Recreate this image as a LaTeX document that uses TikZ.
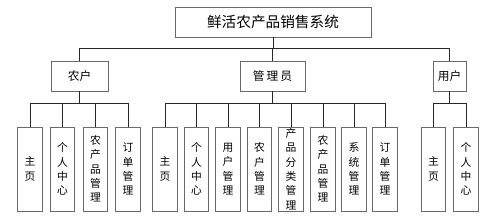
\documentclass[tikz,border=0pt]{standalone}
\usepackage{fontspec}
\newfontfamily\cjk{Noto Sans CJK SC}
\usetikzlibrary{positioning,calc}
\definecolor{BoxGray}{RGB}{105,105,105}
\definecolor{LineGray}{RGB}{40,40,40}
\tikzset{
  sysbox/.style={draw=BoxGray,semithick,fill=white,minimum width=5.88cm,
    minimum height=0.9cm,align=center,font=\cjk\fontsize{12.5}{15}\selectfont},
  rolebox/.style={draw=BoxGray,semithick,fill=white,minimum height=0.9cm,
    align=center,font=\cjk\fontsize{10}{12}\selectfont},
  leafbox/.style={draw=BoxGray,semithick,fill=white,minimum width=0.735cm,
    minimum height=2.52cm,inner sep=0pt,align=center,
    font=\cjk\fontsize{9.2}{12.2}\selectfont},
  link/.style={LineGray,line width=0.7pt}
}

\begin{document}
\begin{tikzpicture}[x=0.03cm,y=-0.03cm]
  \useasboundingbox (0,0) rectangle (499,221);
  % top and roles
  \node[sysbox] (sys) at (273,22) {鲜活农产品销售系统};
  \node[rolebox,minimum width=1.71cm] (farmer) at (79.5,76) {农户};
  \node[rolebox,minimum width=1.95cm] (admin) at (272.5,76) {管\,理\,员};
  \node[rolebox,minimum width=0.99cm] (user) at (449.5,76) {用户};
  \coordinate (topbus) at (0,48);
  \coordinate (subbus) at (0,103);
  \draw[link] (sys.south) -- (sys.south |- topbus);
  \draw[link] (farmer.north) -- (farmer.north |- topbus) -- (user.north |- topbus) -- (user.north);
  \draw[link] (admin.north) -- (admin.north |- topbus);
  % leaves
  \foreach \x/\n/\t in {30/f1/{主\\页},62.5/f2/{个\\人\\中\\心},95.5/f3/{农\\产\\品\\管\\理},128/f4/{订\\单\\管\\理},
    165/a1/{主\\页},196.5/a2/{个\\人\\中\\心},228/a3/{用\\户\\管\\理},259.5/a4/{农\\户\\管\\理},
    291/a5/{产\\品\\分\\类\\管\\理},323/a6/{农\\产\\品\\管\\理},354/a7/{系\\统\\管\\理},385/a8/{订\\单\\管\\理},
    433.5/u1/{主\\页},466/u2/{个\\人\\中\\心}}{
    \node[leafbox] (\n) at (\x,169) {\t};
    \draw[link] (\n.north) -- (\n.north |- subbus);
  }
  \draw[link] (farmer.south) -- (farmer.south |- subbus);
  \draw[link] (f1.north |- subbus) -- (f4.north |- subbus);
  \draw[link] (admin.south) -- (admin.south |- subbus);
  \draw[link] (a1.north |- subbus) -- (a8.north |- subbus);
  \draw[link] (user.south) -- (user.south |- subbus);
  \draw[link] (u1.north |- subbus) -- (u2.north |- subbus);
\end{tikzpicture}
\end{document}
